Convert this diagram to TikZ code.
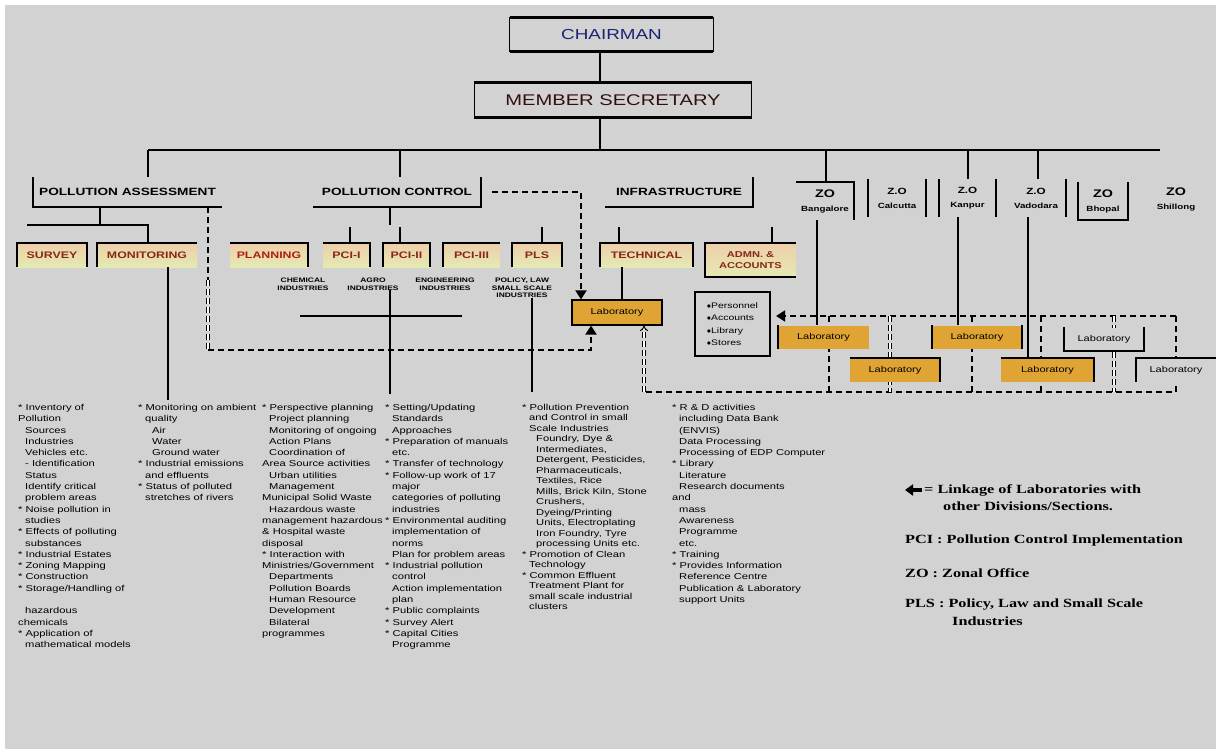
\documentclass[tikz,border=0pt]{standalone}
\usepackage{fontspec}
\setmainfont{Liberation Sans}[FakeStretch=1.3]
\newfontfamily\legfont{Liberation Serif}[FakeStretch=1.3]
\usetikzlibrary{arrows.meta}
\definecolor{bgc}{RGB}{210,210,210}
\definecolor{labc}{RGB}{224,164,52}
\definecolor{boxtxt}{RGB}{135,40,20}
\definecolor{plantxt}{RGB}{175,30,20}
\definecolor{chairc}{RGB}{25,35,115}
\definecolor{msc}{RGB}{50,15,15}
\definecolor{peach}{RGB}{238,206,170}
\definecolor{paleyel}{RGB}{228,234,178}
\newcommand\ind{\hspace*{7pt}}
\newcommand\indd{\hspace*{14pt}}
\newcommand\zoA{\bfseries\fontsize{11}{12}\selectfont}
\newcommand\zoC{\bfseries\fontsize{9}{10}\selectfont}
\newcommand\zoB{\bfseries\fontsize{7.5}{9}\selectfont}
\tikzset{
  every node/.style={inner sep=0pt},
  ln/.style={line width=1.6pt},
  bx/.style={line width=2.2pt},
  dsh/.style={line width=2pt, dash pattern=on 6pt off 4pt},
  ddsh/.style={double, double distance=1.8pt, line width=0.9pt, dash pattern=on 6pt off 3pt},
  divlbl/.style={font=\bfseries\fontsize{10.5}{12}\selectfont, minimum height=30pt},
  subbox/.style={top color=peach, bottom color=paleyel, text=boxtxt, font=\bfseries\fontsize{9.5}{11}\selectfont, minimum height=24pt},
  sml/.style={font=\bfseries\fontsize{6.5}{7.6}\selectfont, align=center},
  labbox/.style={fill=labc, font=\fontsize{8.5}{10}\selectfont, minimum height=23pt},
  labopen/.style={fill=bgc, font=\fontsize{8.5}{10}\selectfont, minimum height=23pt},
  zobox/.style={align=center, minimum height=38pt, font=\fontsize{8}{14}\selectfont},
  lst/.style={font=\fontsize{8.6}{11.3}\selectfont, align=left, anchor=north west},
  leg/.style={font=\legfont\bfseries\fontsize{12.5}{14}\selectfont, anchor=west},
  arrowtip/.style={-{Triangle[length=9pt,width=11pt]}},
}
\begin{document}
\begin{tikzpicture}[x=1pt,y=-1pt]
\useasboundingbox (0,0) rectangle (1216,749);
\fill[white] (0,0) rectangle (1216,749);
\fill[bgc] (5,5) rectangle (1216,749);

% helper x coordinates
\coordinate (x600) at (600,0);
\coordinate (x400) at (400,0);
\coordinate (x148) at (148,0);
\coordinate (x168) at (168,0);
\coordinate (x208) at (208,0);
\coordinate (x390) at (390,0);
\coordinate (x532) at (532,0);
\coordinate (x581) at (581,0);
\coordinate (x591) at (591,0);
\coordinate (x622) at (622,0);
\coordinate (x826) at (826,0);
\coordinate (x968) at (968,0);
\coordinate (x1038) at (1038,0);
\coordinate (x817) at (817,0);
\coordinate (x958) at (958,0);
\coordinate (x1028) at (1028,0);

% top
\node[minimum width=203pt, minimum height=33pt, text=chairc, font=\fontsize{14.5}{16}\selectfont] (chair) at (611.5,34.5) {CHAIRMAN};
\draw[line width=1.2pt] (chair.north west) rectangle (chair.south east);
\draw[line width=2.8pt] (chair.north west) -- (chair.north east) (chair.south west) -- (chair.south east);
\node[minimum width=277pt, minimum height=34pt, text=msc, font=\fontsize{15.5}{17}\selectfont] (msec) at (613,100) {MEMBER SECRETARY};
\draw[line width=1.2pt] (msec.north west) rectangle (msec.south east);
\draw[line width=2.8pt] (msec.north west) -- (msec.north east) (msec.south west) -- (msec.south east);
\coordinate (bus600) at (600,150);
\coordinate (busL) at (148,150);
\coordinate (busR) at (1160,150);
\draw[ln] (chair.south -| x600) -- (msec.north -| x600);
\draw[ln] (msec.south -| x600) -- (bus600);
\draw[ln] (busL) -- (busR);

% divisions
\node[divlbl, minimum width=189pt] (pa) at (127.5,192) {POLLUTION ASSESSMENT};
\draw[bx] (pa.north west) -- (pa.south west) -- (pa.south east);
\draw[ln] (busL) -- (pa.north -| busL);
\node[divlbl, minimum width=168pt] (pc) at (397,192) {POLLUTION CONTROL};
\draw[bx] (pc.north east) -- (pc.south east) -- (pc.south west);
\draw[ln] (busL -| x400) -- (pc.north -| x400);
\node[divlbl, minimum width=148pt] (infra) at (679,192) {INFRASTRUCTURE};
\draw[bx] (infra.north east) -- (infra.south east) -- (infra.south west);

% PA children
\node[subbox, minimum width=70pt] (survey) at (52,255) {SURVEY};
\draw[bx] (survey.south west) -- (survey.north west) -- (survey.north east) -- (survey.south east);
\node[subbox, minimum width=100pt] (mon) at (147,255) {MONITORING};
\draw[bx] (mon.south west) -- (mon.north west) -- (mon.north east);
\coordinate (pam) at (100,225);
\coordinate (pal) at (27,225);
\draw[ln] (pa.south -| pam) -- (pam);
\draw[ln] (pal) -- (pal -| x148) -- (mon.north -| x148);

% PC children
\node[subbox, minimum width=78pt, text=plantxt] (plan) at (269,255) {PLANNING};
\draw[bx] (plan.north west) -- (plan.north east) -- (plan.south east);
\node[subbox, minimum width=47pt] (p1) at (346.5,255) {PCI-I};
\draw[bx] (p1.north west) -- (p1.north east) -- (p1.south east);
\node[subbox, minimum width=47pt] (p2) at (406.5,255) {PCI-II};
\draw[bx] (p2.south west) -- (p2.north west) -- (p2.north east) -- (p2.south east);
\node[subbox, minimum width=57pt] (p3) at (471.5,255) {PCI-III};
\draw[bx] (p3.south west) -- (p3.north west) -- (p3.north east);
\node[subbox, minimum width=50pt] (pls) at (537,255) {PLS};
\draw[bx] (pls.south west) -- (pls.north west) -- (pls.north east) -- (pls.south east);
\coordinate (pcs) at (390,225);
\draw[ln] (pc.south -| pcs) -- (pcs);
\coordinate (s350) at (350,227);
\draw[ln] (s350) -- (p1.north -| s350);
\coordinate (s400) at (400,227);
\draw[ln] (s400) -- (p2.north -| s400);
\coordinate (s542) at (542,227);
\draw[ln] (s542) -- (pls.north -| s542);

\node[sml] (l1) at (303,284) {CHEMICAL\\INDUSTRIES};
\node[sml] (l2) at (373,284) {AGRO\\INDUSTRIES};
\node[sml] (l3) at (445,284) {ENGINEERING\\INDUSTRIES};
\node[sml] (l4) at (522,288) {POLICY, LAW\\SMALL SCALE\\INDUSTRIES};
\coordinate (h1) at (300,316);
\coordinate (h2) at (462,316);
\draw[ln] (h1) -- (h2);

% INFRA children
\node[subbox, minimum width=93pt] (tech) at (646.5,255) {TECHNICAL};
\draw[bx] (tech.south west) -- (tech.north west) -- (tech.north east) -- (tech.south east);
\node[subbox, minimum width=91pt, minimum height=34pt, align=center, font=\bfseries\fontsize{8.5}{11}\selectfont] (adm) at (750.5,260) {ADMN. \&\\ACCOUNTS};
\draw[bx] (adm.north east) -- (adm.north west) -- (adm.south west) -- (adm.south east);
\coordinate (s619) at (619,227);
\draw[ln] (s619) -- (tech.north -| s619);
\coordinate (s772) at (772,227);
\draw[ln] (s772) -- (adm.north -| s772);

% main laboratory and info box
\node[labbox, draw, line width=1.2pt, minimum width=90pt, minimum height=25pt] (lab) at (617,312.5) {Laboratory};
\draw[ln] (tech.south -| x622) -- (lab.north -| x622);
\node[draw, line width=2.2pt, fill=bgc, minimum width=75pt, minimum height=64pt, align=left, font=\fontsize{8}{12.5}\selectfont] (info) at (732.5,324) {$\bullet$Personnel\\$\bullet$Accounts\\$\bullet$Library\\$\bullet$Stores};

% dashed links to main lab
\draw[dsh, arrowtip] ([xshift=11pt]pc.east) -| (lab.north -| x581);
\coordinate (dmid) at (208,280);
\coordinate (dcor) at (208,350);
\draw[dsh] (pa.south -| x208) -- (dmid);
\draw[ddsh] (dmid) -- (dcor);
\draw[dsh, arrowtip] (dcor) -- (dcor -| x591) -- (lab.south -| x591);

% zonal offices
\node[zobox, minimum width=58pt] (zob) at (825,201) {{\zoA ZO}\\{\zoB Bangalore}};
\draw[bx] (zob.north west) -- (zob.north east) -- (zob.south east);
\draw[ln] (busL -| x826) -- (zob.north -| x826);
\node[zobox, minimum width=58pt] (zoc) at (897,198) {{\zoC Z.O}\\{\zoB Calcutta}};
\draw[bx] (zoc.north west) -- (zoc.south west) (zoc.north east) -- (zoc.south east);
\node[zobox, minimum width=57pt] (zok) at (967.5,198) {{\zoC Z.O}\\{\zoB Kanpur}};
\draw[bx] (zok.north west) -- (zok.south west) (zok.north east) -- (zok.south east);
\draw[ln] (busL -| x968) -- (zok.north -| x968);
\node[zobox, minimum width=60pt] (zov) at (1036,198) {{\zoC Z.O}\\{\zoB Vadodara}};
\draw[bx] (zov.north east) -- (zov.south east);
\draw[ln] (busL -| x1038) -- (zov.north -| x1038);
\node[zobox, minimum width=50pt] (zobh) at (1103,201) {{\zoA ZO}\\{\zoB Bhopal}};
\draw[bx] (zobh.north west) -- (zobh.south west) -- (zobh.south east) -- (zobh.north east);
\node[zobox, minimum width=50pt] (zos) at (1176,199) {{\zoA ZO}\\{\zoB Shillong}};

% laboratory network
\coordinate (nTR) at (1176,316);
\coordinate (nBR) at (1176,392);
\coordinate (nBL) at (644,392);
\coordinate (v1) at (829,0);
\coordinate (v2) at (890,0);
\coordinate (v3) at (972,0);
\coordinate (v4) at (1041,0);
\coordinate (v5) at (1114,0);
\draw[dsh, arrowtip, shorten >=5pt] (nTR) -- (info.east |- nTR);
\draw[dsh] (nTR) -- (nBR) -- (nBL);
\draw[ddsh, -{Implies}] (nBL) -- (lab.south -| nBL);
\draw[dsh] (nTR -| v1) -- (nBR -| v1);
\draw[ddsh] (nTR -| v2) -- (nBR -| v2);
\draw[dsh] (nTR -| v3) -- (nBR -| v3);
\draw[dsh] (nTR -| v4) -- (nBR -| v4);
\draw[ddsh] (nTR -| v5) -- (nBR -| v5);

\node[labbox, minimum width=91pt] (lab1) at (823.5,337) {Laboratory};
\draw[bx] (lab1.north west) -- (lab1.south west);
\node[labbox, minimum width=90pt, minimum height=24pt] (lab2) at (895,370) {Laboratory};
\draw[bx] (lab2.north west) -- (lab2.north east) -- (lab2.south east);
\node[labbox, minimum width=90pt] (lab3) at (977,337) {Laboratory};
\draw[bx] (lab3.north west) -- (lab3.south west) (lab3.north east) -- (lab3.south east);
\node[labbox, minimum width=93pt, minimum height=24pt] (lab4) at (1047.5,370) {Laboratory};
\draw[bx] (lab4.north west) -- (lab4.north east) -- (lab4.south east);
\node[labopen, minimum width=80pt] (lab5) at (1104,339) {Laboratory};
\draw[bx] (lab5.north west) -- (lab5.south west) -- (lab5.south east) -- (lab5.north east);
\node[labopen, minimum width=80pt, minimum height=24pt] (lab6) at (1176,370) {Laboratory};
\draw[bx] (lab6.south west) -- (lab6.north west) -- (lab6.north east);
\draw[ln] (zob.south -| x817) -- (lab1.north -| x817);
\draw[ln] (zok.south -| x958) -- (lab3.north -| x958);
\draw[ln] (zov.south -| x1028) -- (lab4.north -| x1028);

% function lists
\node[lst] (c1) at (18,404) {* Inventory of\\
Pollution\\
\ind Sources\\
\ind Industries\\
\ind Vehicles etc.\\
\ind - Identification\\
\ind Status\\
\ind Identify critical\\
\ind problem areas\\
* Noise pollution in\\
\ind studies\\
* Effects of polluting\\
\ind substances\\
* Industrial Estates\\
* Zoning Mapping\\
* Construction\\
* Storage/Handling of\\
\mbox{}\\
\ind hazardous\\
chemicals\\
* Application of\\
\ind mathematical models};
\node[lst] (c2) at (138,404) {* Monitoring on ambient\\
\ind quality\\
\indd Air\\
\indd Water\\
\indd Ground water\\
* Industrial emissions\\
\ind and effluents\\
* Status of polluted\\
\ind stretches of rivers};
\node[lst] (c3) at (262,404) {* Perspective planning\\
\ind Project planning\\
\ind Monitoring of ongoing\\
\ind Action Plans\\
\ind Coordination of\\
Area Source activities\\
\ind Urban utilities\\
\ind Management\\
Municipal Solid Waste\\
\ind Hazardous waste\\
management hazardous\\
\& Hospital waste\\
disposal\\
* Interaction with\\
Ministries/Government\\
\ind Departments\\
\ind Pollution Boards\\
\ind Human Resource\\
\ind Development\\
\ind Bilateral\\
programmes};
\node[lst] (c4) at (385,404) {* Setting/Updating\\
\ind Standards\\
\ind Approaches\\
* Preparation of manuals\\
\ind etc.\\
* Transfer of technology\\
* Follow-up work of 17\\
\ind major\\
\ind categories of polluting\\
\ind industries\\
* Environmental auditing\\
\ind implementation of\\
\ind norms\\
\ind Plan for problem areas\\
* Industrial pollution\\
\ind control\\
\ind Action implementation\\
\ind plan\\
* Public complaints\\
* Survey Alert\\
* Capital Cities\\
\ind Programme};
\node[lst, font=\fontsize{8.6}{10.5}\selectfont] (c5) at (522,404) {* Pollution Prevention\\
\ind and Control in small\\
\ind Scale Industries\\
\indd Foundry, Dye \&\\
\indd Intermediates,\\
\indd Detergent, Pesticides,\\
\indd Pharmaceuticals,\\
\indd Textiles, Rice\\
\indd Mills, Brick Kiln, Stone\\
\indd Crushers,\\
\indd Dyeing/Printing\\
\indd Units, Electroplating\\
\indd Iron Foundry, Tyre\\
\indd processing Units etc.\\
* Promotion of Clean\\
\ind Technology\\
* Common Effluent\\
\ind Treatment Plant for\\
\ind small scale industrial\\
\ind clusters};
\node[lst] (c6) at (672,404) {* R \& D activities\\
\ind including Data Bank\\
\ind (ENVIS)\\
\ind Data Processing\\
\ind Processing of EDP Computer\\
* Library\\
\ind Literature\\
\ind Research documents\\
and\\
\ind mass\\
\ind Awareness\\
\ind Programme\\
\ind etc.\\
* Training\\
* Provides Information\\
\ind Reference Centre\\
\ind Publication \& Laboratory\\
\ind support Units};
\draw[ln, shorten >=4pt] (mon.south -| x168) -- (c2.north -| x168);
\draw[ln, shorten >=10pt] (l2.south -| x390) -- (c4.north -| x390);
\draw[ln, shorten >=12pt] (l4.south -| x532) -- (c5.north -| x532);

% legend
\coordinate (la1) at (922,490);
\coordinate (la2) at (905,490);
\draw[line width=3.5pt, -{Triangle[length=8pt,width=11pt]}] (la1) -- (la2);
\node[leg] (lg1) at (924,490) {= Linkage of Laboratories with};
\node[leg] (lg2) at (943,506) {other Divisions/Sections.};
\node[leg] (lg3) at (905,540) {PCI : Pollution Control Implementation};
\node[leg] (lg4) at (905,573) {ZO : Zonal Office};
\node[leg] (lg5) at (905,605) {PLS : Policy, Law and Small Scale};
\node[leg] (lg6) at (952,621) {Industries};
\end{tikzpicture}
\end{document}
